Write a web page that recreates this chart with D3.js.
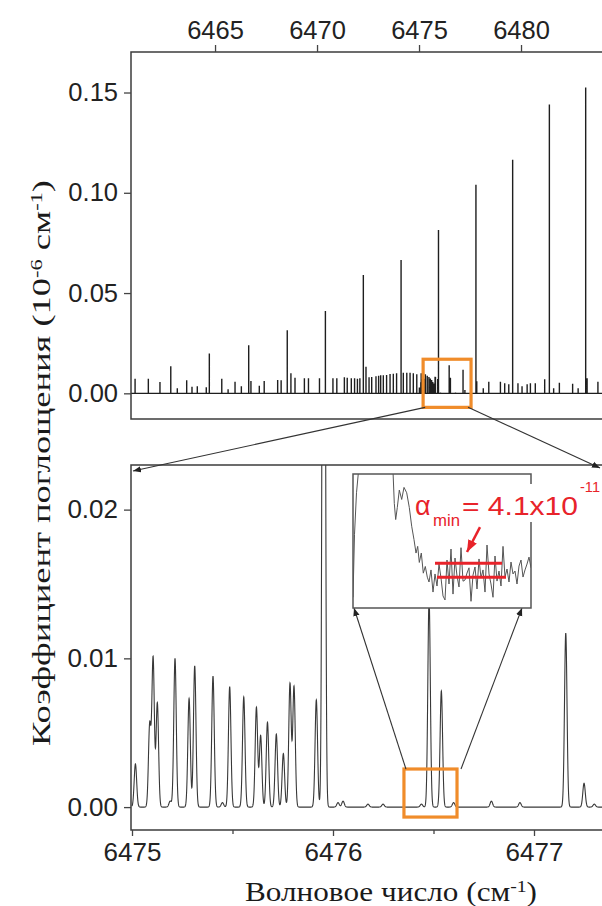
<!DOCTYPE html>
<html><head><meta charset="utf-8">
<script src="https://cdn.jsdelivr.net/npm/d3@7/dist/d3.min.js"></script>
<style>
html,body{margin:0;padding:0;background:#fff;}
svg{display:block;}
</style></head>
<body><svg id="c" width="602" height="906"></svg>
<script>
// ---------- data ----------
const peakPos = [
6461.08, 6461.73, 6462.30, 6462.83, 6463.15, 6463.61, 6463.87, 6464.13, 6464.57, 6464.72,
6465.33, 6465.64, 6465.98, 6466.29, 6466.65, 6466.76, 6467.17, 6467.41, 6468.07, 6468.24,
6468.54, 6468.72, 6468.92, 6469.38, 6469.58, 6470.12, 6470.41, 6470.78, 6470.97, 6471.34,
6471.48, 6471.68, 6471.84, 6471.98, 6472.10, 6472.27, 6472.40, 6472.55, 6472.68, 6472.89,
6473.02, 6473.12, 6473.25, 6473.41, 6473.58, 6473.74, 6473.90, 6474.12, 6474.23, 6474.40,
6474.56, 6474.72, 6474.89,
6475.017, 6475.088, 6475.105, 6475.126, 6475.19, 6475.214, 6475.284, 6475.312, 6475.403, 6475.45,
6475.486, 6475.556, 6475.619, 6475.640, 6475.674, 6475.718, 6475.753, 6475.786, 6475.806, 6475.917,
6475.954, 6476.025, 6476.05, 6476.174, 6476.249, 6476.44, 6476.478, 6476.539, 6476.60, 6476.788,
6476.93, 6477.158, 6477.249, 6477.30,
6477.79, 6477.83, 6478.15, 6478.42, 6478.99, 6479.20, 6479.40, 6479.59, 6479.85, 6480.05,
6480.30, 6480.46, 6480.70, 6481.16, 6481.39, 6481.60, 6481.88, 6482.53, 6482.80, 6483.17,
6483.24, 6483.77
];
const peakHeight = [
0.0073, 0.0073, 0.0057, 0.0135, 0.0025, 0.0065, 0.0033, 0.0035, 0.0030, 0.0198,
0.0073, 0.0020, 0.0058, 0.0035, 0.0240, 0.0062, 0.0038, 0.0062, 0.0067, 0.0065,
0.0315, 0.0100, 0.0078, 0.0075, 0.0075, 0.0075, 0.0410, 0.0075, 0.0075, 0.0080,
0.0078, 0.0075, 0.0075, 0.0073, 0.0075, 0.0590, 0.0132, 0.0080, 0.0082, 0.0085,
0.0088, 0.0090, 0.0090, 0.0092, 0.0096, 0.0098, 0.0100, 0.0665, 0.0102, 0.0102,
0.0102, 0.0100, 0.0095,
0.0029, 0.0055, 0.0100, 0.0070, 0.0004, 0.0100, 0.0073, 0.0095, 0.0088, 0.0003,
0.0081, 0.0074, 0.0067, 0.0048, 0.0057, 0.0049, 0.0036, 0.0083, 0.0081, 0.0072,
0.0815, 0.0003, 0.0004, 0.0002, 0.0002, 0.0002, 0.0140, 0.0078, 0.0003, 0.0004,
0.0003, 0.0117, 0.0016, 0.0002,
0.1040, 0.0060, 0.0025, 0.0058, 0.0058, 0.0050, 0.0045, 0.1165, 0.0050, 0.0035,
0.0045, 0.0050, 0.0050, 0.0070, 0.1440, 0.0025, 0.0053, 0.0048, 0.0025, 0.1525,
0.0075, 0.0058
];
const topXTicks = [6465, 6470, 6475, 6480];
const topYTicks = [0, 0.05, 0.10, 0.15];
const lowXTicks = [6475, 6476, 6477];
const lowXMinor = [6475.5, 6476.5];
const lowYTicks = [0, 0.01, 0.02];

// inset trace (arbitrary units, 0..100 = inset height)
const insetX = [0, 1.5, 3.5, 5.5, 8, 38, 40, 41.3, 42.7, 44.3, 46.3, 48.7, 51, 53.7, 56.3, 58.7, 61, 63, 64.7, 66.3, 68.3, 70.3, 72.3, 74.3,
76, 78, 80, 82, 84, 86, 88, 90, 92, 94, 96, 98, 100, 102, 104, 106, 108, 110, 112, 114,
116, 118, 120, 122, 124, 126, 128, 130, 132, 134, 136, 138, 140, 142, 144, 146, 148, 150, 152, 154,
156, 158, 160, 162, 164, 166, 168, 170, 172, 174, 176, 178];
const insetY = [8, 55, 86, 102, 115, 115, 102, 78, 66, 75, 88, 81, 90, 86, 75, 61, 51, 41, 46, 34, 41, 26, 31, 23,
19.4, 28.4, 11.9, 25.4, 16.4, 32.8, 22.4, 9.0, 6.0, 35.8, 17.9, 44, 10.4, 37.3, 23.9, 15.7, 45, 20, 20.9, 26.1,
30, 5, 24.6, 30.6, 14.2, 36.6, 22.4, 28.4, 11.9, 47, 25.4, 17.9, 8, 38.8, 20.1, 27.6, 16.4, 46, 23.1, 29.1,
19.4, 34.3, 25.4, 27.6, 17.9, 31.3, 35.8, 23.1, 28.4, 32.8, 38, 30];
const noiseUpper = 33.4, noiseLower = 22.9;

// ---------- layout ----------
const svg = d3.select("#c");
const FONT = "'Liberation Sans', Arial, sans-serif";
const SERIF = "'Liberation Serif', 'Times New Roman', serif";
const ORANGE = "#f08c2a", RED = "#e8232a", FRAME = "#3c3c3c";

const topX = d3.scaleLinear([6460.88, 6483.97], [131, 602]);
const topY = d3.scaleLinear([-0.0128, 0.1702], [419, 52]);
const lowX = d3.scaleLinear([6475, 6477.35], [132, 604.35]);
const lowY = d3.scaleLinear([-0.00154, 0.0230], [830, 465]);
const insX = d3.scaleLinear([0, 178], [353, 531]);
const insY = d3.scaleLinear([0, 100], [608, 474]);

const defs = svg.append("defs");
defs.append("clipPath").attr("id","ctop").append("rect").attr("x",131).attr("y",52).attr("width",480).attr("height",367);
defs.append("clipPath").attr("id","clow").append("rect").attr("x",131).attr("y",465).attr("width",480).attr("height",365);
defs.append("clipPath").attr("id","cins").append("rect").attr("x",353).attr("y",474).attr("width",178).attr("height",134);
function marker(id, color, size){
  defs.append("marker").attr("id",id).attr("viewBox","0 -5 10 10").attr("refX",10).attr("refY",0)
    .attr("markerUnits","userSpaceOnUse").attr("markerWidth",size).attr("markerHeight",size).attr("orient","auto")
    .append("path").attr("d","M0,-4L10,0L0,4Z").attr("fill",color);
}
marker("ah","#222",8);
marker("ahr",RED,12);

function styleAxis(g, fs){
  g.select(".domain").remove();
  g.selectAll(".tick line").attr("stroke","#444").attr("stroke-width",1.3);
  g.selectAll(".tick text").attr("fill","#222").style("font-family",FONT).style("font-size",fs+"px");
}

// ---------- top panel ----------
const peaks = peakPos.map((p,i)=>({x:p, h:peakHeight[i]}));
let dTop = `M${topX(6460.88)},${topY(0)}`;
peaks.forEach(p=>{
  dTop += `L${topX(p.x)},${topY(0)}L${topX(p.x)},${topY(p.h)}L${topX(p.x)},${topY(0)}`;
});
dTop += `L${topX(6483.97)},${topY(0)}`;
svg.append("path").attr("d",dTop).attr("clip-path","url(#ctop)")
  .attr("fill","none").attr("stroke","#1e1e1e").attr("stroke-width",1.4);

// frame
svg.append("path").attr("d","M612,52H131V419H612").attr("fill","none").attr("stroke",FRAME).attr("stroke-width",1.5);
const gTopX = svg.append("g").attr("transform","translate(0,52)")
  .call(d3.axisTop(topX).tickValues(topXTicks).tickFormat(d3.format("d")).tickSize(7).tickPadding(6));
styleAxis(gTopX, 25.5);
const gTopY = svg.append("g").attr("transform","translate(131,0)")
  .call(d3.axisLeft(topY).tickValues(topYTicks).tickFormat(d3.format(".2f")).tickSize(7).tickPadding(6));
styleAxis(gTopY, 25.5);

// top orange box
const boxTop = {x0:6475.20, x1:6477.55, y0:-0.007, y1:0.017};
svg.append("rect").attr("x",topX(boxTop.x0)).attr("y",topY(boxTop.y1))
  .attr("width",topX(boxTop.x1)-topX(boxTop.x0)).attr("height",topY(boxTop.y0)-topY(boxTop.y1))
  .attr("fill","none").attr("stroke",ORANGE).attr("stroke-width",3.2);

// ---------- lower panel ----------
const sigma = 0.0062;
const xs = d3.range(6475, 6477.3501, 0.0005).concat(peakPos.filter(p=>p>=6475 && p<=6477.35)).sort((a,b)=>a-b);
const prof = xs.map(x=>{
  let s = 0;
  peaks.forEach(p=>{ const d=(x-p.x)/sigma; if (Math.abs(d)<8) s += p.h*Math.exp(-0.5*d*d); });
  return [x, s];
});
svg.append("path").datum(prof).attr("clip-path","url(#clow)")
  .attr("d", d3.line().x(d=>lowX(d[0])).y(d=>lowY(d[1])))
  .attr("fill","none").attr("stroke","#383838").attr("stroke-width",1.1);

svg.append("path").attr("d","M612,465H131V830H612").attr("fill","none").attr("stroke",FRAME).attr("stroke-width",1.5);
const gLowX = svg.append("g").attr("transform","translate(0,830)")
  .call(d3.axisBottom(lowX).tickValues(lowXTicks).tickFormat(d3.format("d")).tickSize(6).tickPadding(7));
styleAxis(gLowX, 26);
const gLowXm = svg.append("g").attr("transform","translate(0,830)")
  .call(d3.axisBottom(lowX).tickValues(lowXMinor).tickFormat("").tickSize(4));
styleAxis(gLowXm, 26);
const gLowY = svg.append("g").attr("transform","translate(131,0)")
  .call(d3.axisLeft(lowY).tickValues(lowYTicks).tickFormat(d3.format(".2f")).tickSize(7).tickPadding(6));
styleAxis(gLowY, 26);

// lower orange box
const boxLow = {x0:6476.353, x1:6476.617, y0:-0.00067, y1:0.00256};
svg.append("rect").attr("x",lowX(boxLow.x0)).attr("y",lowY(boxLow.y1))
  .attr("width",lowX(boxLow.x1)-lowX(boxLow.x0)).attr("height",lowY(boxLow.y0)-lowY(boxLow.y1))
  .attr("fill","none").attr("stroke",ORANGE).attr("stroke-width",3.2);

// zoom connector lines (top box -> lower panel)
svg.append("line").attr("x1",topX(boxTop.x0)+2).attr("y1",topY(boxTop.y0))
  .attr("x2",lowX(6475)+1).attr("y2",471).attr("stroke","#333").attr("stroke-width",1.1).attr("marker-end","url(#ah)");
svg.append("line").attr("x1",topX(boxTop.x1)-3).attr("y1",topY(boxTop.y0))
  .attr("x2",600).attr("y2",468).attr("stroke","#333").attr("stroke-width",1.1).attr("marker-end","url(#ah)");

// connector lines (lower box -> inset)
svg.append("line").attr("x1",lowX(boxLow.x0)+2).attr("y1",lowY(boxLow.y1))
  .attr("x2",insX(1)).attr("y2",insY(0)).attr("stroke","#333").attr("stroke-width",1.1).attr("marker-end","url(#ah)");
svg.append("line").attr("x1",lowX(boxLow.x1)+4).attr("y1",lowY(boxLow.y1))
  .attr("x2",insX(169)).attr("y2",insY(0)).attr("stroke","#333").attr("stroke-width",1.1).attr("marker-end","url(#ah)");

// ---------- inset ----------
svg.append("rect").attr("x",insX(0)).attr("y",insY(100)).attr("width",insX(178)-insX(0)).attr("height",insY(0)-insY(100))
  .attr("fill","#fff").attr("stroke","#555").attr("stroke-width",1.5);
svg.append("path").datum(insetX.map((x,i)=>[x,insetY[i]])).attr("clip-path","url(#cins)")
  .attr("d", d3.line().x(d=>insX(d[0])).y(d=>insY(d[1])))
  .attr("fill","none").attr("stroke","#555").attr("stroke-width",1);
svg.append("line").attr("x1",insX(82)).attr("x2",insX(149)).attr("y1",insY(noiseUpper)).attr("y2",insY(noiseUpper))
  .attr("stroke",RED).attr("stroke-width",3);
svg.append("line").attr("x1",insX(84)).attr("x2",insX(153)).attr("y1",insY(noiseLower)).attr("y2",insY(noiseLower))
  .attr("stroke",RED).attr("stroke-width",3);
svg.append("line").attr("x1",insX(127)).attr("y1",insY(60.4)).attr("x2",insX(114)).attr("y2",insY(41.8))
  .attr("stroke",RED).attr("stroke-width",2.5).attr("marker-end","url(#ahr)");

// red label (one text element with sub/superscripts)
svg.append("rect").attr("x",459).attr("y",484).attr("width",143).attr("height",38).attr("fill","#fff");
const lab = svg.append("text").attr("x",415).attr("y",515).attr("fill",RED).style("font-family",FONT);
lab.append("tspan").style("font-size","27px").text("α");
lab.append("tspan").attr("x",433).attr("y",526).style("font-size","17px")
  .attr("textLength",27).attr("lengthAdjust","spacingAndGlyphs").text("min");
lab.append("tspan").attr("x",462).attr("y",515).style("font-size","26px")
  .attr("textLength",116).attr("lengthAdjust","spacingAndGlyphs").text("= 4.1x10");
lab.append("tspan").attr("x",580).attr("y",492).style("font-size","15px")
  .attr("textLength",20).attr("lengthAdjust","spacingAndGlyphs").text("-11");

// ---------- axis titles ----------
const yt = svg.append("text").attr("transform","translate(50,463) rotate(-90)")
  .attr("text-anchor","middle").attr("fill","#1a1a1a").style("font-family",SERIF).style("font-size","26px")
  .attr("textLength",566).attr("lengthAdjust","spacingAndGlyphs");
yt.append("tspan").text("Коэффициент поглощения (10");
yt.append("tspan").attr("baseline-shift","super").style("font-size","16px").text("-6");
yt.append("tspan").text(" см");
yt.append("tspan").attr("baseline-shift","super").style("font-size","16px").text("-1");
yt.append("tspan").text(")");

const xt = svg.append("text").attr("x",391).attr("y",901)
  .attr("text-anchor","middle").attr("fill","#1a1a1a").style("font-family",SERIF).style("font-size","27px")
  .attr("textLength",292).attr("lengthAdjust","spacingAndGlyphs");
xt.append("tspan").text("Волновое число (см");
xt.append("tspan").attr("baseline-shift","super").style("font-size","17px").text("-1");
xt.append("tspan").text(")");
</script>
</body></html>
